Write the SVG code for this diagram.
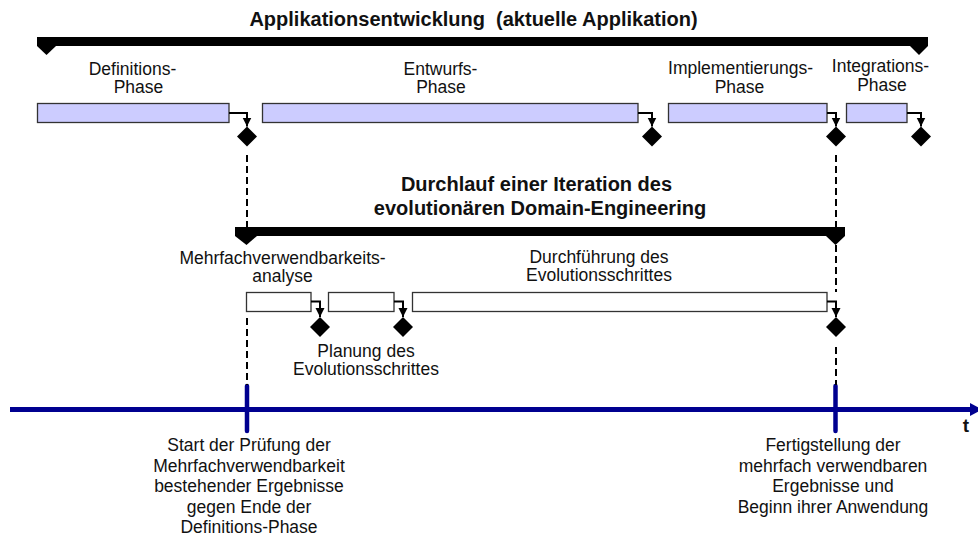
<svg xmlns="http://www.w3.org/2000/svg" xmlns:xlink="http://www.w3.org/1999/xlink" width="978" height="538" viewBox="0 0 978 538">
  <style>
    text { font-family: "Liberation Sans", Arial, sans-serif; fill: #111; }
    .lbl { font-size: 17.5px; text-anchor: middle; }
    .ttl { font-size: 20px; font-weight: bold; text-anchor: middle; white-space: pre; }
    .phase { fill: #ccccff; stroke: #333; stroke-width: 1.3; }
    .step { fill: #fff; stroke: #333; stroke-width: 1.3; }
    .span { fill: #000; }
    .elbow { fill: none; stroke: #000; stroke-width: 2; marker-end: url(#arr); }
    .dash { fill: none; stroke: #000; stroke-width: 2; stroke-dasharray: 7 4; }
    .axis { stroke: #000090; stroke-width: 5; }
    .tick { stroke: #000090; stroke-width: 4.5; stroke-linecap: round; }
  </style>
  <defs>
    <marker id="arr" viewBox="0 0 10 10" refX="10" refY="5" markerWidth="9" markerHeight="11" markerUnits="userSpaceOnUse" orient="auto">
      <path d="M0,0 L10,5 L0,10 Z" fill="#000"/>
    </marker>
    <path id="dia" d="M0,-10 L10,0 L0,10 L-10,0 Z" fill="#000"/>
  </defs>

  <!-- overall application development span -->
  <g id="app-span">
    <text class="ttl" x="473.5" y="25.5" xml:space="preserve">Applikationsentwicklung  (aktuelle Applikation)</text>
    <rect class="span" x="37" y="37" width="891" height="9"/>
    <polygon class="span" points="37,46 56,46 46.5,55"/>
    <polygon class="span" points="910,46 928,46 919,55"/>
  </g>

  <!-- application phases -->
  <g id="definition-phase">
    <text class="lbl" x="132.5" y="75">Definitions-</text>
    <text class="lbl" x="138.5" y="93">Phase</text>
    <rect class="phase" x="37.5" y="103.5" width="191.5" height="19"/>
  </g>
  <g id="design-phase">
    <text class="lbl" x="440.5" y="75">Entwurfs-</text>
    <text class="lbl" x="441" y="93">Phase</text>
    <rect class="phase" x="262.5" y="103.5" width="375.5" height="19"/>
  </g>
  <g id="implementation-phase">
    <text class="lbl" x="740.5" y="74">Implementierungs-</text>
    <text class="lbl" x="739.5" y="93">Phase</text>
    <rect class="phase" x="668.5" y="103.5" width="158.5" height="19"/>
  </g>
  <g id="integration-phase">
    <text class="lbl" x="880.5" y="72">Integrations-</text>
    <text class="lbl" x="882" y="91">Phase</text>
    <rect class="phase" x="846.5" y="103.5" width="60.5" height="19"/>
  </g>

  <!-- milestones of the phases -->
  <g id="ms-definition"><use xlink:href="#dia" x="247" y="136.5"/></g>
  <g id="ms-design"><use xlink:href="#dia" x="652" y="136.5"/></g>
  <g id="ms-implementation"><use xlink:href="#dia" x="836" y="136.5"/></g>
  <g id="ms-integration"><use xlink:href="#dia" x="921" y="136.5"/></g>

  <!-- domain engineering iteration span -->
  <g id="iteration-span">
    <text class="ttl" x="536.5" y="191">Durchlauf einer Iteration des</text>
    <text class="ttl" x="540" y="214.5">evolutionären Domain-Engineering</text>
    <rect class="span" x="235" y="227" width="610" height="9"/>
    <polygon class="span" points="235,236 257,236 246.5,245"/>
    <polygon class="span" points="826,236 845,236 835.5,245"/>
  </g>

  <!-- iteration steps -->
  <g id="reuse-analysis">
    <text class="lbl" x="282.5" y="264">Mehrfachverwendbarkeits-</text>
    <text class="lbl" x="282.5" y="282">analyse</text>
    <rect class="step" x="246.5" y="292.5" width="64.5" height="19"/>
  </g>
  <g id="evolution-planning">
    <rect class="step" x="328.5" y="292.5" width="65.5" height="19"/>
    <text class="lbl" x="366" y="357">Planung des</text>
    <text class="lbl" x="366" y="375">Evolutionsschrittes</text>
  </g>
  <g id="evolution-execution">
    <text class="lbl" x="599" y="263">Durchführung des</text>
    <text class="lbl" x="599" y="281">Evolutionsschrittes</text>
    <rect class="step" x="412.5" y="292.5" width="414.5" height="19"/>
  </g>

  <!-- milestones of the steps -->
  <g id="ms-analysis"><use xlink:href="#dia" x="320" y="327"/></g>
  <g id="ms-planning"><use xlink:href="#dia" x="403" y="327"/></g>
  <g id="ms-execution"><use xlink:href="#dia" x="836" y="327"/></g>

  <!-- time axis -->
  <g id="time-axis">
    <line class="axis" x1="10" y1="409.5" x2="972" y2="409.5"/>
    <polygon points="970,403 982,409.5 970,416" fill="#000090"/>
    <text x="966" y="431.5" style="font-size:19px;font-weight:bold;text-anchor:middle">t</text>
  </g>
  <g id="event-start">
    <line class="tick" x1="247" y1="386" x2="247" y2="431"/>
    <text class="lbl" x="249" y="451">Start der Prüfung der</text>
    <text class="lbl" x="249" y="471.5">Mehrfachverwendbarkeit</text>
    <text class="lbl" x="249" y="492">bestehender Ergebnisse</text>
    <text class="lbl" x="249" y="512.5">gegen Ende der</text>
    <text class="lbl" x="249" y="533">Definitions-Phase</text>
  </g>
  <g id="event-finish">
    <line class="tick" x1="835.5" y1="386" x2="835.5" y2="431"/>
    <text class="lbl" x="833" y="451">Fertigstellung der</text>
    <text class="lbl" x="833" y="471.5">mehrfach verwendbaren</text>
    <text class="lbl" x="833" y="492">Ergebnisse und</text>
    <text class="lbl" x="833" y="512.5">Beginn ihrer Anwendung</text>
  </g>

  <!-- connectors -->
  <g id="connectors">
    <path class="elbow" d="M229,113 H247 V126.5"/>
    <path class="elbow" d="M638,113 H652 V126.5"/>
    <path class="elbow" d="M827,113 H836 V126.5"/>
    <path class="elbow" d="M907,113 H921 V126.5"/>
    <path class="elbow" d="M311,301.5 H320 V317"/>
    <path class="elbow" d="M394,301.5 H403 V317"/>
    <path class="elbow" d="M827,301.5 H836 V317"/>
    <path class="dash" d="M247,155 V227"/>
    <path class="dash" d="M247,318 V385"/>
    <path class="dash" d="M836,155 V227"/>
    <path class="dash" d="M836,245 V292"/>
    <path class="dash" d="M836,347 V385"/>
  </g>
</svg>
